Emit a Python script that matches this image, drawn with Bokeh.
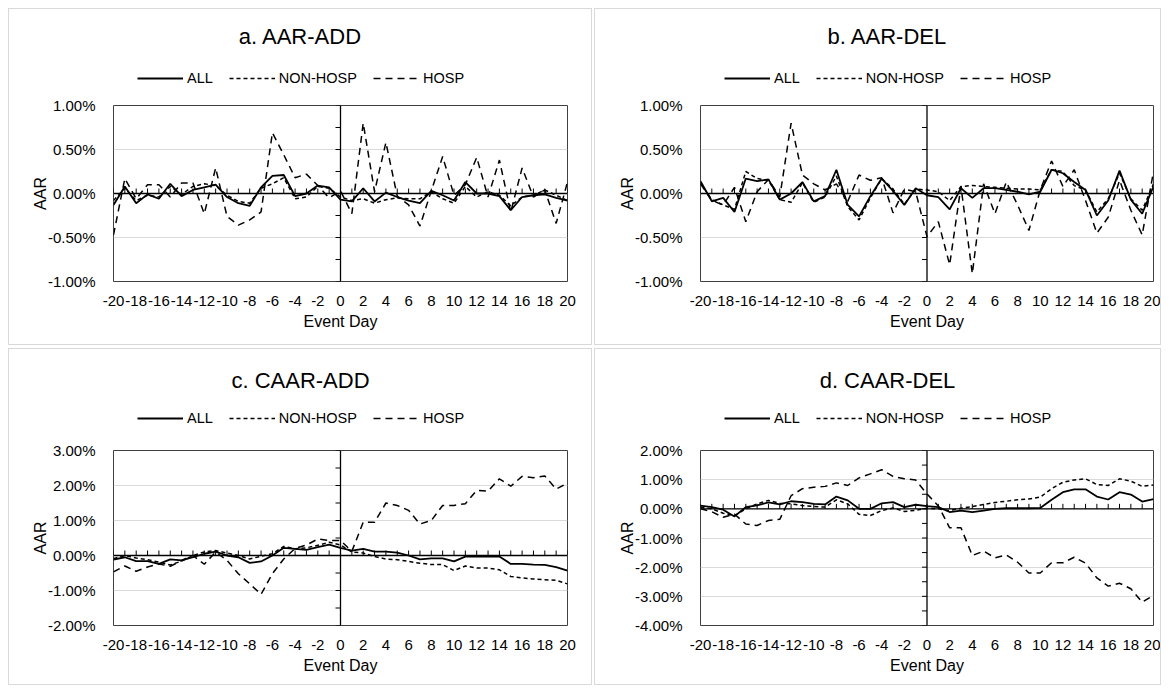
from bokeh.plotting import figure
from bokeh.models import (Range1d, FixedTicker, PrintfTickFormatter, Span, Legend, LegendItem,
                          Label, Spacer)
from bokeh.layouts import column, row
from bokeh.embed import file_html
from bokeh.resources import INLINE

days = list(range(-20, 21))
x_ticks = list(range(-20, 21, 2))

# ---- a. AAR-ADD (%)
a_all = [-0.13, 0.08, -0.11, -0.01, -0.06, 0.11, -0.03, 0.04, 0.07, 0.10,
         -0.04, -0.11, -0.14, 0.07, 0.20, 0.21, -0.03, 0.00, 0.09, 0.07,
         -0.07,
         -0.09, 0.06, -0.09, 0.01, -0.04, -0.08, -0.11, 0.03, -0.02, -0.08,
         0.13, 0.00, 0.00, -0.03, -0.19, -0.04, -0.02, -0.01, -0.05, -0.08]
a_non = [-0.08, 0.06, -0.08, -0.02, -0.04, 0.08, -0.01, 0.08, 0.11, 0.09,
         -0.02, -0.09, -0.11, 0.06, 0.11, 0.18, -0.06, -0.04, 0.08, 0.06,
         -0.04,
         -0.08, -0.06, -0.11, -0.07, -0.05, -0.06, -0.06, 0.02, -0.06, -0.11,
         0.08, -0.04, 0.02, -0.02, -0.14, -0.04, -0.02, 0.04, -0.02, -0.08]
a_hosp = [-0.47, 0.17, -0.06, 0.10, 0.10, -0.04, 0.12, 0.12, -0.23, 0.29,
          -0.26, -0.36, -0.30, -0.21, 0.69, 0.44, 0.18, 0.22, 0.09, -0.05,
          0.03,
          -0.23, 0.80, 0.02, 0.58, -0.03, -0.13, -0.37, 0.03, 0.42, -0.02,
          0.10, 0.41, -0.04, 0.38, -0.21, 0.29, -0.04, 0.04, -0.34, 0.13]

# ---- b. AAR-DEL (%)
b_all = [0.14, -0.09, -0.05, -0.21, 0.17, 0.14, 0.16, -0.07, 0.00, 0.13,
         -0.09, -0.03, 0.27, -0.13, -0.26, -0.03, 0.17, 0.03, -0.13, 0.06,
         -0.02,
         -0.04, -0.18, 0.06, -0.05, 0.06, 0.06, 0.04, 0.02, -0.01, 0.02,
         0.27, 0.23, 0.13, 0.04, -0.25, -0.08, 0.26, -0.07, -0.23, 0.08]
b_non = [0.12, -0.07, -0.13, -0.18, 0.25, 0.17, 0.15, -0.07, -0.10, 0.12,
         -0.10, -0.04, 0.20, -0.15, -0.30, -0.05, 0.17, 0.05, -0.12, 0.05,
         0.04,
         0.02, -0.08, 0.08, 0.09, 0.08, 0.07, 0.06, 0.05, 0.05, 0.04,
         0.27, 0.25, 0.09, 0.04, -0.21, -0.06, 0.23, -0.06, -0.19, 0.11]
b_hosp = [0.11, -0.08, -0.13, 0.07, -0.32, 0.02, 0.16, -0.04, 0.80, 0.21,
          0.11, 0.04, 0.11, -0.09, 0.21, 0.15, 0.18, -0.22, 0.05, 0.02,
          -0.49,
          -0.32, -0.81, 0.08, -0.91, 0.11, -0.23, 0.13, -0.13, -0.42, 0.04,
          0.37, 0.08, 0.27, -0.08, -0.45, -0.27, 0.15, -0.19, -0.47, 0.25]

# ---- c. CAAR-ADD (%)
c_all = [-0.12, -0.05, -0.16, -0.16, -0.24, -0.11, -0.14, -0.05, 0.05, 0.11,
         0.00, -0.05, -0.21, -0.17, 0.00, 0.22, 0.19, 0.16, 0.24, 0.31,
         0.22,
         0.14, 0.19, 0.11, 0.11, 0.08, 0.00, -0.11, -0.08, -0.08, -0.17,
         -0.03, -0.03, -0.03, -0.03, -0.24, -0.24, -0.26, -0.27, -0.33, -0.43]
c_non = [-0.09, 0.00, -0.07, -0.12, -0.19, -0.27, -0.16, 0.00, 0.10, 0.14,
         0.07, 0.00, -0.10, -0.02, 0.05, 0.26, 0.19, 0.22, 0.29, 0.38,
         0.30,
         0.10, 0.07, -0.03, -0.10, -0.12, -0.17, -0.22, -0.26, -0.26, -0.43,
         -0.30, -0.36, -0.36, -0.41, -0.60, -0.64, -0.67, -0.69, -0.71, -0.81]
c_hosp = [-0.47, -0.30, -0.45, -0.33, -0.24, -0.31, -0.14, 0.00, -0.25, 0.10,
          -0.14, -0.52, -0.81, -1.11, -0.52, -0.10, 0.20, 0.30, 0.47, 0.43,
          0.43,
          0.12, 0.95, 0.95, 1.50, 1.43, 1.29, 0.90, 1.00, 1.43, 1.43,
          1.48, 1.86, 1.84, 2.19, 1.98, 2.26, 2.22, 2.27, 1.90, 2.07]

# ---- d. CAAR-DEL (%)
d_all = [0.11, 0.06, -0.03, -0.26, 0.06, 0.12, 0.22, 0.15, 0.26, 0.23,
         0.17, 0.15, 0.42, 0.29, 0.00, 0.00, 0.19, 0.23, 0.06, 0.14,
         0.09,
         0.06, -0.11, -0.06, -0.11, -0.06, 0.00, 0.02, 0.02, 0.02, 0.03,
         0.31, 0.57, 0.67, 0.67, 0.42, 0.32, 0.57, 0.49, 0.25, 0.33]
d_non = [0.06, 0.00, -0.15, -0.23, 0.00, 0.17, 0.29, 0.19, 0.17, 0.11,
         0.08, 0.06, 0.31, 0.17, -0.19, -0.23, -0.06, 0.03, -0.09, -0.05,
         0.02,
         0.00, -0.06, 0.02, 0.08, 0.15, 0.22, 0.26, 0.31, 0.34, 0.40,
         0.69, 0.91, 0.99, 1.03, 0.83, 0.80, 1.03, 0.95, 0.77, 0.82]
d_hosp = [0.00, -0.10, -0.29, -0.18, -0.52, -0.57, -0.40, -0.36, 0.45, 0.69,
          0.74, 0.77, 0.89, 0.80, 1.06, 1.20, 1.34, 1.11, 1.03, 0.99,
          0.51,
          0.10, -0.65, -0.65, -1.60, -1.45, -1.68, -1.58, -1.83, -2.20, -2.20,
          -1.85, -1.85, -1.66, -1.86, -2.37, -2.65, -2.55, -2.74, -3.20, -2.97]

# axis ticks (%)
ab_major = [-1.0, -0.5, 0.0, 0.5, 1.0]
ab_minor = [-1.0, -0.75, -0.5, -0.25, 0.0, 0.25, 0.5, 0.75, 1.0]
c_major = [-2.0, -1.0, 0.0, 1.0, 2.0, 3.0]
c_minor = [-2.0, -1.5, -1.0, -0.5, 0.0, 0.5, 1.0, 1.5, 2.0, 2.5, 3.0]
d_major = [-4.0, -3.0, -2.0, -1.0, 0.0, 1.0, 2.0]
d_minor = [-4.0, -3.5, -3.0, -2.5, -2.0, -1.5, -1.0, -0.5, 0.0, 0.5, 1.0, 1.5, 2.0]

FONT = "Liberation Sans"
STYLES = [("ALL", None, 1.8), ("NON-HOSP", "4 3", 1.5), ("HOSP", "7 5", 1.5)]


def add_series(p, series):
    rs = []
    for (name, dash, lw), s in zip(STYLES, series):
        kw = {} if dash is None else {"line_dash": dash}
        rs.append(p.line(days, s, line_color="black", line_width=lw, **kw))
    return rs


def header(title, series, w, h, ty, vy):
    # title + legend strip (its frame is aligned with the chart frame below)
    hp = figure(width=w, height=h, output_backend="svg", toolbar_location=None,
                title=None, x_axis_type=None, y_axis_type=None,
                x_range=Range1d(100, 101), y_range=Range1d(100, 101),
                min_border_left=0, min_border_right=0, min_border_top=0, min_border_bottom=0,
                outline_line_color=None, background_fill_color="white",
                border_fill_color="white")
    rs = add_series(hp, series)  # only feed the legend swatches (outside the range)
    hp.add_layout(Label(x=187, y=ty, x_units="screen", y_units="screen",
                        text=title, text_align="center", text_baseline="middle",
                        text_font=FONT, text_font_size="22px", text_color="#000000"))
    leg = Legend(items=[LegendItem(label=STYLES[i][0], renderers=[rs[i]]) for i in range(3)],
                 orientation="horizontal", location=(24, vy),
                 glyph_width=46, glyph_height=18, label_height=18, label_standoff=4,
                 spacing=16, padding=0, margin=0, border_line_alpha=0,
                 background_fill_alpha=0, label_text_font=FONT,
                 label_text_font_size="14.5px", label_text_color="#000000",
                 label_text_baseline="middle")
    hp.add_layout(leg, "center")
    return hp


def chart(series, major, minor, w, h, bl, br, bt, bb):
    ymin, ymax = major[0], major[-1]
    p = figure(width=w, height=h, output_backend="svg", toolbar_location=None,
               title=None, x_range=Range1d(-20, 20), y_range=Range1d(ymin, ymax),
               min_border_left=bl, min_border_right=br,
               min_border_top=bt, min_border_bottom=bb,
               background_fill_color="white", border_fill_color="white")
    fw = w - bl - br
    fh = h - bt - bb
    p.outline_line_color = "#404040"
    p.outline_line_width = 1
    p.xgrid.visible = False
    p.ygrid.ticker = FixedTicker(ticks=major)
    p.ygrid.grid_line_color = "#d9d9d9"
    p.ygrid.grid_line_width = 1

    p.xaxis.ticker = FixedTicker(ticks=x_ticks)
    p.xaxis.formatter = PrintfTickFormatter(format="%d")
    p.yaxis.ticker = FixedTicker(ticks=major)
    p.yaxis.formatter = PrintfTickFormatter(format="%.2f%%")
    for ax in (p.xaxis, p.yaxis):
        ax.axis_line_color = None
        ax.major_tick_line_color = None
        ax.minor_tick_line_color = None
        ax.major_label_text_font = FONT
        ax.major_label_text_font_size = "15px"
        ax.major_label_text_color = "#000000"
        ax.axis_label_text_font = FONT
        ax.axis_label_text_font_size = "16px"
        ax.axis_label_text_font_style = "normal"
        ax.axis_label_text_color = "#000000"
    p.xaxis.axis_label = "Event Day"
    p.xaxis.major_label_standoff = 8
    p.xaxis.axis_label_standoff = 4
    p.yaxis.axis_label = "AAR"
    p.yaxis.major_label_standoff = 12
    p.yaxis.axis_label_standoff = -4

    # axes crossing at zero (category axis at y=0, value axis at day 0)
    p.add_layout(Span(location=0, dimension="width", line_color="black", line_width=1.3))
    p.add_layout(Span(location=0, dimension="height", line_color="black", line_width=1.3))
    ty = 5 * (ymax - ymin) / fh
    p.segment(x0=days, y0=[0] * len(days), x1=days, y1=[ty] * len(days),
              line_color="black", line_width=1)
    tx = 5 * 40 / fw
    p.segment(x0=[0] * len(minor), y0=minor, x1=[-tx] * len(minor), y1=minor,
              line_color="black", line_width=1)
    add_series(p, series)
    return p


BOX = {"border": "1px solid #d9d9d9"}

# panel a / b: strip 86 px + chart 249 px ; panel c / d: strip 91 px + chart 244 px
pa = column(header("a. AAR-ADD", (a_all, a_non, a_hosp), 582, 86, 59, 8),
            chart((a_all, a_non, a_hosp), ab_major, ab_minor, 582, 249, 104, 24, 10, 63),
            spacing=0, styles=BOX)
pb = column(header("b. AAR-DEL", (b_all, b_non, b_hosp), 565, 86, 59, 8),
            chart((b_all, b_non, b_hosp), ab_major, ab_minor, 565, 249, 105, 7, 10, 63),
            spacing=0, styles=BOX)
pc = column(header("c. CAAR-ADD", (c_all, c_non, c_hosp), 582, 91, 60, 13),
            chart((c_all, c_non, c_hosp), c_major, c_minor, 582, 244, 104, 24, 10, 59),
            spacing=0, styles=BOX)
pd_ = column(header("d. CAAR-DEL", (d_all, d_non, d_hosp), 565, 91, 60, 13),
             chart((d_all, d_non, d_hosp), d_major, d_minor, 565, 244, 105, 7, 10, 59),
             spacing=0, styles=BOX)

layout = column(Spacer(width=10, height=8),
                row(Spacer(width=8, height=10), pa, Spacer(width=2, height=10), pb, spacing=0),
                Spacer(width=10, height=3),
                row(Spacer(width=8, height=10), pc, Spacer(width=2, height=10), pd_, spacing=0),
                spacing=0)

open("out.html", "w").write(file_html(layout, INLINE))
